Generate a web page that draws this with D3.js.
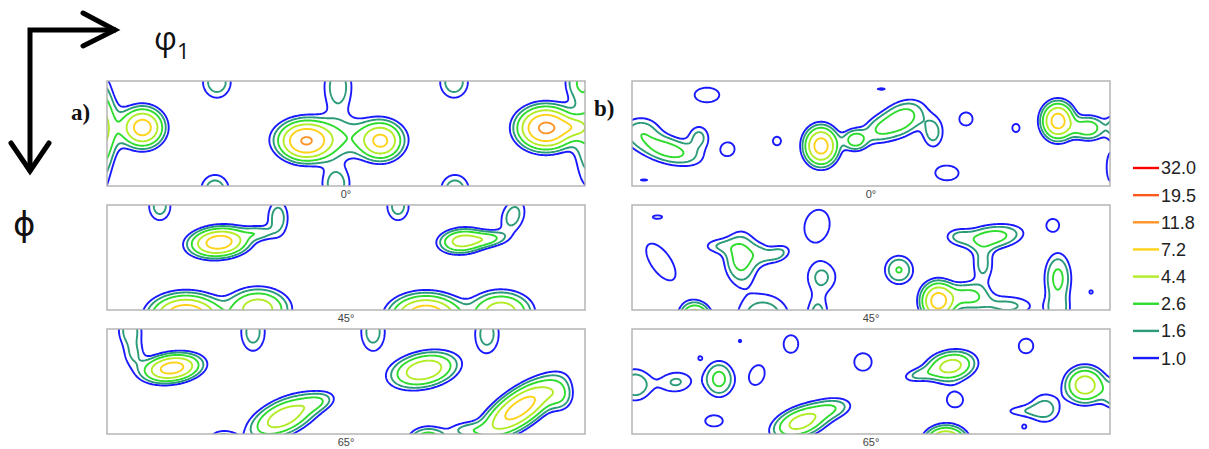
<!DOCTYPE html>
<html>
<head>
<meta charset="utf-8">
<script src="https://cdn.jsdelivr.net/npm/d3@7"></script>
<style>
  body { margin: 0; background: #fff; }
  svg { display: block; }
</style>
</head>
<body>
<svg id="chart" width="1209" height="449"></svg>
<script>
// Iso-intensity levels (multiples of random density) and their line colours
const contourLevels = [1.0, 1.6, 2.6, 4.4, 7.2, 11.8, 19.5, 32.0];
const levelColors = ["#1a1aff", "#2b9b7a", "#2edc2e", "#b2ec26", "#ffd21a", "#ff9428", "#ff5a1e", "#ff0000"];
const sectionLabels = ["0°", "45°", "65°"];
const sampleLabels = ["a)", "b)"];

// Texture components per φ2 section:
// [φ1 (°), Φ (°), peak intensity, spread along φ1 (°), spread along Φ (°), tilt (°)]
const peaksA0 = [
  [26, 39, 9, 9.4, 9.9, 0],
  [-4.5, 39.4, 3.4, 9, 18.9, 0],
  [-3, 45, 1.8, 4.5, 40, 0],
  [175.5, 48, 2.2, 30, 12, 0],
  [149, 50.6, 11, 11.3, 9.4, 0],
  [205.6, 50.6, 7, 9, 9.4, 0],
  [173.2, 4.3, 2.1, 8.3, 17, 0],
  [171.7, 87.4, 2.1, 8.3, 12, 0],
  [82, 0, 2.2, 8.3, 10.7, 0],
  [260.6, 0, 2.2, 8.3, 10.7, 0],
  [354, 0, 2, 7.5, 10.7, 0],
  [80.6, 92.6, 2.2, 8.3, 10.3, 0],
  [261.3, 92.6, 2.2, 8.3, 10.3, 0],
  [329.8, 39.4, 13, 12, 10.3, 0],
  [361.5, 43, 2.5, 7.5, 34, 0],
  [350, 38.6, 3, 7.5, 5.1, 0]
];
const peaksA45 = [
  [83.6, 31.1, 9.5, 12.8, 7.3, -5],
  [113, 23.1, 1.9, 7.5, 4.3, 0],
  [128, 10.3, 2.1, 6, 12, 0],
  [39, 0, 2, 6.8, 10.3, 0],
  [218.4, 0, 2, 6.8, 10.3, 0],
  [266.6, 30, 5.5, 10.5, 6.4, -5],
  [286.2, 28.3, 2.8, 9, 4.3, -5],
  [305, 8.6, 2, 6.8, 12, 20],
  [58.7, 94.3, 11, 15, 10.3, 0],
  [113, 88.3, 6, 13.6, 10.3, 0],
  [239.5, 94.3, 10.5, 15, 10.3, 0],
  [296, 90.9, 6, 13.6, 10.3, 0]
];
const peaksA65 = [
  [48.2, 32.6, 9, 12.8, 6.9, -8],
  [16.6, 0, 2.1, 6.8, 10.3, 0],
  [19.6, 21.4, 1.5, 6, 8.6, 0],
  [109.2, 1.7, 2, 7.5, 13.7, 0],
  [199.6, 1.7, 2, 7.5, 13.7, 0],
  [285.4, 3.4, 2, 7.5, 13.7, 0],
  [238, 34.3, 6.5, 15, 8.6, -12],
  [132.5, 74.6, 6, 16.6, 8.6, -25],
  [86.6, 92.6, 1.9, 7.5, 5.1, 0],
  [158, 61.7, 1.8, 9, 5.1, -15],
  [310.3, 66.9, 9, 19.6, 8.6, -35],
  [340.4, 56.6, 2.2, 6.8, 8.6, 0],
  [241, 96, 4.5, 9, 7.7, 0],
  [271, 85.7, 1.8, 10.5, 5.1, 0]
];
const peaksB0 = [
  [141.6, 54.8, 9, 7.5, 9.9, 0],
  [167.2, 49.7, 3.4, 6, 6, 0],
  [202.6, 31.7, 3.6, 12, 9, -30],
  [184.5, 41, 1.9, 9, 7.5, -25],
  [226, 42.9, 2, 6, 10.3, 0],
  [26.4, 58.3, 3.3, 16.6, 7.7, 15],
  [6, 41, 1.9, 10.5, 8.6, 0],
  [49.7, 47, 1.8, 6, 7.7, 0],
  [320, 33.4, 9, 7.2, 9.4, 0],
  [345, 39.4, 3, 6.8, 6.9, 0],
  [336, 40, 1.5, 6, 6, 0],
  [369, 37.7, 3.4, 7.5, 7.7, 0],
  [360, 73, 1.3, 4.5, 17, 0],
  [55.7, 11.1, 1.3, 12.8, 8.6, 0],
  [71.5, 57.4, 1.3, 6.8, 7.7, 0],
  [108.4, 50.6, 1.2, 5, 6, 0],
  [250.8, 31.7, 1.3, 6.8, 7.7, 0],
  [288.4, 39.4, 1.2, 4.5, 5.7, 0],
  [236.5, 78, 1.3, 12, 8.6, 0],
  [186.8, 6, 1.05, 7.5, 2.1, 0],
  [8.3, 84, 1.05, 7.5, 2.1, 0]
];
const peaksB45 = [
  [21, 48, 1.4, 19.6, 10.3, 55],
  [81.3, 44.6, 3.3, 8.3, 14.6, 0],
  [64, 34.3, 1.4, 9, 5.1, 0],
  [109, 41, 1.9, 6.8, 5.1, -20],
  [96.4, 41, 1.3, 6, 6.9, 0],
  [138.6, 17, 1.4, 11.3, 17, 15],
  [142.3, 61, 1.75, 9.4, 10.7, 0],
  [200.3, 54.8, 2.7, 7.5, 8.6, 0],
  [271, 26.6, 3.3, 15, 6.9, -8],
  [263.6, 49.7, 1.9, 6, 12, 0],
  [244.7, 25.7, 1.4, 7.5, 5.1, 0],
  [229.7, 81.4, 9, 7.5, 9.4, 0],
  [252.3, 77, 3, 10.5, 7.7, 0],
  [282.4, 85.7, 1.8, 15, 6.9, 0],
  [320, 62, 3, 6.8, 14.6, 0],
  [320, 90, 1.8, 6.8, 8.6, 0],
  [316.3, 16.3, 1.3, 6, 6.9, 0],
  [18.8, 9.4, 1.1, 6, 2.6, 0],
  [345, 73.7, 1.1, 3, 3.4, 0],
  [46.7, 96, 6.5, 6.8, 7.7, 0],
  [98, 96, 2.3, 15, 15.4, 0],
  [139.3, 94.3, 2, 6, 12, 0]
];
const peaksB65 = [
  [1.5, 47, 2.3, 9, 10.3, 0],
  [32.4, 44.6, 1.7, 10.5, 7.7, -5],
  [64.8, 42, 3.1, 7.5, 10.3, 0],
  [93.4, 38.6, 1.3, 7.5, 12, 20],
  [119, 12, 1.3, 7.5, 10.3, 0],
  [173.2, 27.4, 1.3, 9, 10.3, 0],
  [61, 78, 1.3, 9, 6.4, 0],
  [126.5, 78.9, 5.5, 13.6, 7.7, -20],
  [150.6, 66.9, 2, 10.5, 6, -10],
  [239.5, 30.9, 5.5, 11.3, 7.7, -10],
  [214.6, 38.6, 1.6, 9, 4.3, -10],
  [242.5, 60, 1.3, 8.3, 8.6, 0],
  [235.7, 96, 9, 9, 7.7, 0],
  [296, 13.7, 1.3, 7.5, 8.6, 30],
  [340.4, 47.1, 6, 9, 9.4, 0],
  [365, 55.7, 2.8, 7.5, 8.6, 0],
  [310.3, 66.9, 1.85, 9, 10.3, 0],
  [292, 69.5, 1.2, 12, 4.3, 0],
  [80.6, 9.4, 1.08, 2.3, 2.6, 0],
  [50.5, 24, 1.08, 2.3, 2.6, 0],
  [294.5, 83, 1.1, 2.3, 2.6, 0]
];

const sections = [
  { col: 0, row: 0, peaks: peaksA0 },
  { col: 0, row: 1, peaks: peaksA45 },
  { col: 0, row: 2, peaks: peaksA65 },
  { col: 1, row: 0, peaks: peaksB0 },
  { col: 1, row: 1, peaks: peaksB45 },
  { col: 1, row: 2, peaks: peaksB65 }
];

// ---- layout ----
const panelW = 478, panelH = 105;
const panelX = [107, 632];
const panelY = [81, 205, 329];
const pad = 14; // grid margin beyond the frame so closed rings stay outside the clip

const svg = d3.select("#chart");
const defs = svg.append("defs");
defs.append("clipPath").attr("id", "panelClip")
  .append("rect").attr("x", 0).attr("y", 0).attr("width", panelW).attr("height", panelH);

const xScale = d3.scaleLinear().domain([0, 360]).range([0, panelW]);
const yScale = d3.scaleLinear().domain([0, 90]).range([0, panelH]);
const colorScale = d3.scaleOrdinal().domain(contourLevels).range(levelColors);

function intensityGrid(peaks, gw, gh) {
  const vals = new Float64Array(gw * gh);
  const kx = xScale(1) - xScale(0), ky = yScale(1) - yScale(0);
  for (const [p1, P, h, w1, w2, tilt] of peaks) {
    const cx = xScale(p1), cy = yScale(P);
    const sx = w1 * kx, sy = w2 * ky;
    const t = tilt * Math.PI / 180, c = Math.cos(t), s = Math.sin(t);
    const R = 5 * Math.max(sx, sy);
    const i0 = Math.max(0, Math.floor(cx + pad - R)), i1 = Math.min(gw - 1, Math.ceil(cx + pad + R));
    const j0 = Math.max(0, Math.floor(cy + pad - R)), j1 = Math.min(gh - 1, Math.ceil(cy + pad + R));
    for (let j = j0; j <= j1; j++) {
      const dy = j - pad - cy;
      for (let i = i0; i <= i1; i++) {
        const dx = i - pad - cx;
        const u = dx * c + dy * s, v = -dx * s + dy * c;
        vals[j * gw + i] += h * Math.exp(-0.5 * (u * u / (sx * sx) + v * v / (sy * sy)));
      }
    }
  }
  return vals;
}

const gw = panelW + 2 * pad, gh = panelH + 2 * pad;
const contourGen = d3.contours().size([gw, gh]).thresholds(contourLevels);
const path = d3.geoPath();

sections.forEach(sec => {
  const g = svg.append("g")
    .attr("transform", `translate(${panelX[sec.col]},${panelY[sec.row]})`);
  const plot = g.append("g").attr("clip-path", "url(#panelClip)")
    .append("g").attr("transform", `translate(${-pad + 0.5},${-pad + 0.5})`);
  const rings = contourGen(intensityGrid(sec.peaks, gw, gh));
  plot.selectAll("path").data(rings).join("path")
    .attr("d", path)
    .attr("fill", "none")
    .attr("stroke", d => colorScale(d.value))
    .attr("stroke-width", 1.9)
    .attr("stroke-linejoin", "round");
  g.append("rect")
    .attr("width", panelW).attr("height", panelH)
    .attr("fill", "none").attr("stroke", "#b0b0b0").attr("stroke-width", 1.4);
  g.append("text")
    .attr("x", panelW / 2).attr("y", panelH + 12)
    .attr("text-anchor", "middle")
    .attr("font-family", "Liberation Sans, Arial, sans-serif")
    .attr("font-size", 11).attr("fill", "#444")
    .text(sectionLabels[sec.row]);
});

// sample labels
svg.selectAll("text.sample").data(sampleLabels).join("text")
  .attr("class", "sample")
  .attr("x", (d, i) => [71, 594][i])
  .attr("y", (d, i) => [120, 116][i])
  .attr("font-family", "Liberation Serif, Times New Roman, serif")
  .attr("font-weight", "bold").attr("font-size", 23).attr("fill", "#111")
  .text(d => d);

// legend (highest level on top)
const legendLevels = contourLevels.slice().reverse();
const legend = svg.append("g").attr("transform", "translate(1133,168)");
const lg = legend.selectAll("g").data(legendLevels).join("g")
  .attr("transform", (d, i) => `translate(0,${i * 27.15})`);
lg.append("line").attr("x1", 0).attr("x2", 26).attr("y1", 0).attr("y2", 0)
  .attr("stroke", d => colorScale(d)).attr("stroke-width", 2.4);
lg.append("text").attr("x", 28).attr("y", 0).attr("dy", "0.36em")
  .attr("font-family", "Liberation Sans, Arial, sans-serif")
  .attr("font-size", 18).attr("fill", "#222")
  .text(d => d.toFixed(1));

// orientation axes: φ1 to the right, Φ downwards
const axes = svg.append("g").attr("stroke", "#000").attr("fill", "none")
  .attr("stroke-width", 5).attr("stroke-linecap", "butt");
axes.append("path").attr("d", "M30,172 L30,30 L116,30").attr("stroke-linejoin", "miter");
axes.append("path").attr("d", "M83,13 L115,30 L83,46").attr("stroke-linecap", "round").attr("stroke-linejoin", "miter");
axes.append("path").attr("d", "M11,143 L30,171 L49,143").attr("stroke-linecap", "round").attr("stroke-linejoin", "miter");

const phi1 = svg.append("text").attr("x", 154).attr("y", 50)
  .attr("font-family", "Open Sans, DejaVu Sans, sans-serif").attr("font-size", 32).attr("fill", "#111");
phi1.append("tspan").text("φ");
phi1.append("tspan").attr("font-size", 22).attr("dy", 9).text("1");

svg.append("text").attr("x", 13).attr("y", 236)
  .attr("font-family", "Open Sans, DejaVu Sans, sans-serif").attr("font-size", 34).attr("fill", "#111")
  .text("ϕ");
</script>
</body>
</html>
